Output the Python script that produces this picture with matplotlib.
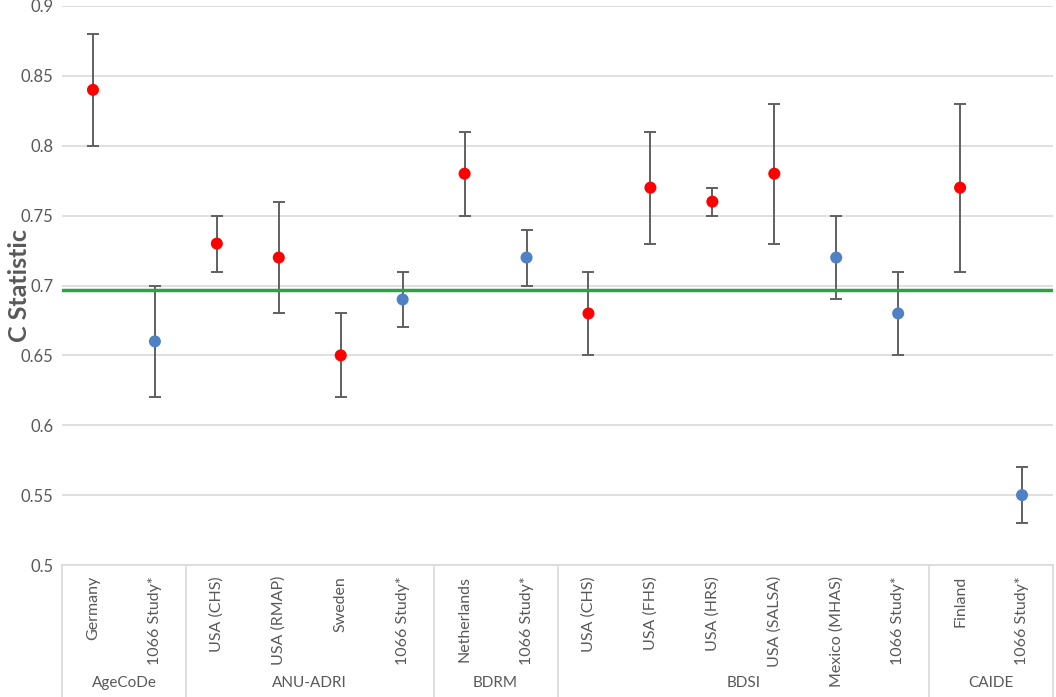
import numpy as np
import matplotlib.pyplot as plt
from matplotlib.transforms import blended_transform_factory

plt.rcParams["font.family"] = ["Lato", "DejaVu Sans"]

groups = ["AgeCoDe", "ANU-ADRI", "BDRM", "BDSI", "CAIDE"]
group_sizes = [2, 4, 2, 6, 2]
labels = ["Germany", "1066 Study*",
          "USA (CHS)", "USA (RMAP)", "Sweden", "1066 Study*",
          "Netherlands", "1066 Study*",
          "USA (CHS)", "USA (FHS)", "USA (HRS)", "USA (SALSA)", "Mexico (MHAS)", "1066 Study*",
          "Finland", "1066 Study*"]
c_stat = [0.84, 0.66, 0.73, 0.72, 0.65, 0.69, 0.78, 0.72,
          0.68, 0.77, 0.76, 0.78, 0.72, 0.68, 0.77, 0.55]
lower = [0.80, 0.62, 0.71, 0.68, 0.62, 0.67, 0.75, 0.70,
         0.65, 0.73, 0.75, 0.73, 0.69, 0.65, 0.71, 0.53]
upper = [0.88, 0.70, 0.75, 0.76, 0.68, 0.71, 0.81, 0.74,
         0.71, 0.81, 0.77, 0.83, 0.75, 0.71, 0.83, 0.57]
# red = original validation, blue = 1066 / external
is_blue = [0, 1, 0, 0, 0, 1, 0, 1, 0, 0, 0, 0, 1, 1, 0, 1]
threshold = 0.697

red = "#FF0000"
blue = "#4F81C4"
gray_txt = "#595959"
grid_c = "#D9D9D9"

fig = plt.figure(figsize=(10.56, 6.97), dpi=100)
ax = fig.add_axes([62/1056, 132/697, 991/1056, 559/697])

x = np.arange(len(labels))
y = np.array(c_stat)
err = np.array([y - np.array(lower), np.array(upper) - y])
colors = [blue if b else red for b in is_blue]

ax.errorbar(x, y, yerr=err, fmt="none", ecolor="#606060", elinewidth=1.4,
            capsize=4, capthick=1.4, zorder=2)
ax.scatter(x, y, c=colors, s=75, zorder=3, edgecolors="none")
ax.axhline(threshold, color="#2CA444", lw=2.5, zorder=2.5)

ax.set_xlim(-0.5, len(labels) - 0.5)
ax.set_ylim(0.5, 0.9)
ax.set_yticks(np.arange(0.5, 0.901, 0.05))
ax.set_yticklabels(["0.5", "0.55", "0.6", "0.65", "0.7", "0.75", "0.8", "0.85", "0.9"])
ax.yaxis.grid(True, color=grid_c, lw=1.2)
ax.set_axisbelow(True)
for s in ["top", "right", "left"]:
    ax.spines[s].set_visible(False)
ax.spines["bottom"].set_color(grid_c)
ax.spines["bottom"].set_linewidth(1.2)
ax.tick_params(axis="y", length=0, labelsize=12, labelcolor=gray_txt, pad=6)
ax.tick_params(axis="x", length=0)
ax.set_xticks(x)
ax.set_xticklabels(labels, rotation=90, fontsize=11.5, color=gray_txt, va="top")
ax.tick_params(axis="x", pad=8)
ax.set_ylabel("C Statistic", fontsize=18, fontweight="bold", color=gray_txt)
ax.yaxis.set_label_coords(-31/991, 0.5)

# group labels and separators below the axis
trans = blended_transform_factory(ax.transData, ax.transAxes)
bottom = -132/559
edges = np.concatenate([[0], np.cumsum(group_sizes)]) - 0.5
for e in edges:
    ax.plot([e, e], [0, bottom], transform=trans, color=grid_c, lw=1.2, clip_on=False)
for g, a, b in zip(groups, edges[:-1], edges[1:]):
    ax.text((a + b) / 2, -118/559, g, transform=trans, ha="center", va="center",
            fontsize=11, color=gray_txt)

fig.savefig("out.png", dpi=100)
